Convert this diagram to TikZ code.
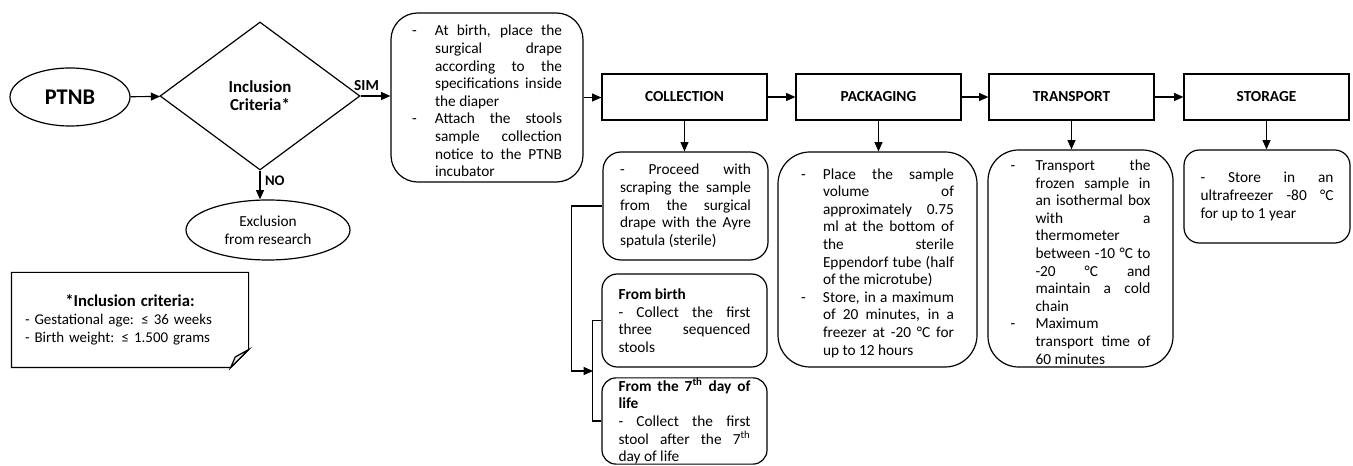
\documentclass[tikz,border=0pt]{standalone}
\usepackage{fontspec}
\setmainfont{Carlito}
\usetikzlibrary{shapes.geometric, arrows.meta}
\tolerance=10000
\hbadness=10000
\hyphenpenalty=10000
\exhyphenpenalty=10000

\newcommand{\bodyfont}{\fontsize{11.5}{13.2}\selectfont\parindent=0pt}
\newcommand{\itm}[1]{\par\noindent\hangindent=#1\hangafter=1\makebox[#1][l]{-}\ignorespaces}

\tikzset{every picture/.style={x=0.75pt, y=-0.75pt, line width=0.9pt, >={Triangle[length=7pt, width=6pt]}}}
\tikzset{
  stage/.style={draw, rectangle, minimum width=123.75pt, minimum height=34.5pt, inner sep=0pt, font=\fontsize{11.5}{13.2}\selectfont\bfseries},
  info/.style={draw, align=justify, inner sep=0pt, font=\bodyfont},
}

\begin{document}
\begin{tikzpicture}
    \useasboundingbox (0,0) rectangle (1353,466);
    % Screening
    \node (ptnb) [draw, ellipse, minimum width=90pt, minimum height=43.5pt, inner sep=0pt, font=\fontsize{16.8}{18}\selectfont\bfseries] at (70,97) {PTNB};
    \node (crit) [draw, diamond, minimum width=150pt, minimum height=111pt, inner sep=0pt, align=center, font=\fontsize{12.6}{13.5}\selectfont\bfseries] at (260,96) {Inclusion\\Criteria*};
    \node (excl) [draw, ellipse, minimum width=123pt, minimum height=45pt, inner sep=0pt, align=center, font=\bodyfont] at (268,230) {Exclusion\\from research};
    \node (note) [minimum width=177pt, minimum height=70.5pt, inner sep=0pt, text width=157.5pt, align=left, font=\fontsize{11.2}{13.5}\selectfont] at (130,320) {{\centering\fontsize{12.5}{15}\selectfont\bfseries *Inclusion criteria:\par}- Gestational age: ≤ 36 weeks\\- Birth weight: ≤ 1.500 grams\par\vspace*{12pt}};
    \draw (note.north west) -- (note.north east) -- ([yshift=13.5pt]note.south east) -- ([xshift=-13.5pt]note.south east) -- (note.south west) -- cycle;
    \draw[fill=gray!15] ([yshift=13.5pt]note.south east) -- ([xshift=-10pt, yshift=8pt]note.south east) -- ([xshift=-13.5pt]note.south east) -- cycle;

    \node (prep) [info, rounded corners=20pt, minimum width=144pt, minimum height=126.75pt, text width=112.5pt] at (487,97.5) {\itm{17.25pt}At birth, place the\linebreak surgical drape\linebreak according to the\linebreak specifications inside\linebreak the diaper \itm{17.25pt}Attach the stools\linebreak sample collection\linebreak notice to the PTNB\linebreak incubator\par};

    % Stages
    \node (coll) [stage] at (684.5,97) {COLLECTION};
    \node (pkg) [stage] at (878.5,97) {PACKAGING};
    \node (trn) [stage] at (1071.5,97) {TRANSPORT};
    \node (sto) [stage] at (1266.5,97) {STORAGE};

    \node (scrape) [info, rounded corners=13.5pt, minimum width=123.75pt, minimum height=81pt, text width=98.25pt] at (685.5,206) {- Proceed with\linebreak scraping the sample\linebreak from the surgical\linebreak drape with the Ayre\linebreak spatula (sterile)};
    \node (birth) [info, rounded corners=11.5pt, minimum width=123.75pt, minimum height=69.75pt, text width=99pt] at (684.5,320.5) {\textbf{From birth}\par - Collect the first\linebreak three sequenced\linebreak stools};
    \node (seventh) [info, rounded corners=10.5pt, minimum width=123.75pt, minimum height=64.5pt, text width=99pt] at (684.5,421) {\textbf{From the 7\textsuperscript{th} day of\linebreak life}\par - Collect the first\linebreak stool after the 7\textsuperscript{th}\linebreak day of life};
    \node (pack) [info, rounded corners=24pt, minimum width=149.25pt, minimum height=161.25pt, text width=114.75pt] at (877.5,259.5) {\itm{16.5pt}Place the sample\linebreak volume of\linebreak approximately 0.75\linebreak ml at the bottom of\linebreak the sterile\linebreak Eppendorf tube (half\linebreak of the microtube) \itm{16.5pt}Store, in a maximum\linebreak of 20 minutes, in a\linebreak freezer at -20 °C for\linebreak up to 12 hours\par\vspace*{11pt}};
    \node (trans) [info, rounded corners=23pt, minimum width=138.75pt, minimum height=162.75pt, text width=105pt] at (1080.5,258.5) {\itm{18.75pt}Transport the\linebreak frozen sample in\linebreak an isothermal box\linebreak with a\linebreak thermometer\linebreak between -10 °C to\linebreak -20 °C and\linebreak maintain a cold\linebreak chain \itm{18.75pt}Maximum\linebreak transport time of\linebreak 60 minutes\par};
    \node (store) [info, rounded corners=11.5pt, minimum width=124.5pt, minimum height=69.75pt, text width=99.75pt] at (1267,196.5) {- Store in an\linebreak ultrafreezer -80 °C\linebreak for up to 1 year};

    % Connectors
    \draw[->] (ptnb) -- (crit);
    \draw[->] (crit.east) -- node[above, pos=0.2, font=\fontsize{11.5}{13}\selectfont\bfseries] {SIM} (crit.east -| prep.west);
    \draw[->] (crit.south) -- node[right, pos=0.35, font=\fontsize{11}{13}\selectfont\bfseries] {NO} (crit.south |- excl.north);
    \draw[->] (prep.east) -- (prep.east -| coll.west);
    \draw[->] (coll) -- (pkg);
    \draw[->] (pkg) -- (trn);
    \draw[->] (trn) -- (sto);
    \draw[->] (coll.south) -- (coll.south |- scrape.north);
    \draw[->] (pkg.south) -- (pkg.south |- pack.north);
    \draw[->] (trn.south) -- (trn.south |- trans.north);
    \draw[->] (sto.south) -- (sto.south |- store.north);
    \coordinate (brk) at (593,371);
    \draw[->] (scrape.west) -- ++(-31,0) |- (brk);
    \draw (birth.west) -- ++(-9,0) |- (seventh.west);
\end{tikzpicture}
\end{document}
